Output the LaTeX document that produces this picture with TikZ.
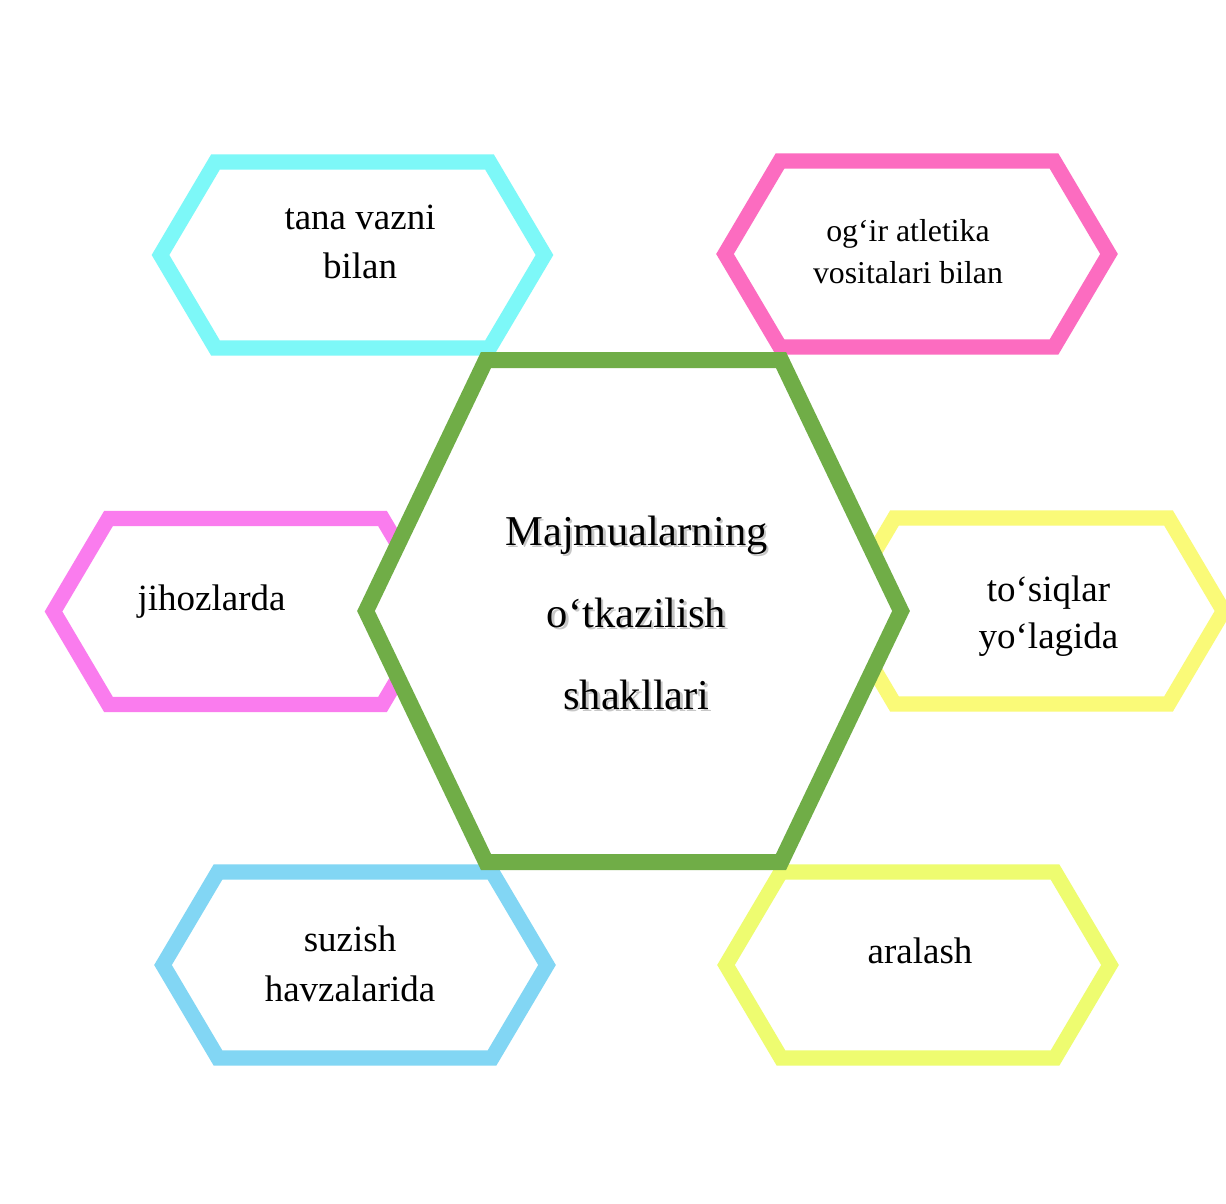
\documentclass[tikz,border=0pt]{standalone}
\usepackage{fontspec}
\setmainfont{Liberation Serif}
\usetikzlibrary{positioning}
\definecolor{hexcyan}{HTML}{7DF8F8}
\definecolor{hexrose}{HTML}{FC6CC0}
\definecolor{hexorchid}{HTML}{FA7CEE}
\definecolor{hexyellow}{HTML}{FAFA78}
\definecolor{hexsky}{HTML}{82D6F4}
\definecolor{hexlime}{HTML}{EEFC70}
\definecolor{hexgreen}{HTML}{70AD47}

% small hexagon: centre x, centre y, colour
\newcommand{\smallhex}[3]{%
  \draw[hexline, draw=#3] (#1-192,#2) -- (#1-137,#2-93) -- (#1+137,#2-93)
    -- (#1+192,#2) -- (#1+137,#2+93) -- (#1-137,#2+93) -- cycle;}
\newcommand{\shadowed}[1]{\leavevmode\rlap{\hspace{1.2pt}\raisebox{-1.2pt}{\textcolor{black!22}{#1}}}#1}

\begin{document}
\begin{tikzpicture}[x=0.5pt, y=-0.5pt,
    hexline/.style={line width=7.6pt, fill=white, line join=miter},
    bighex/.style={line width=8pt, draw=hexgreen, fill=white, line join=miter},
    hextext/.style={align=center, text=black, inner sep=0pt,
                    font=\fontsize{18.5}{24.5}\selectfont},
    maintext/.style={align=center, text=black, inner sep=0pt,
                     font=\fontsize{21.25}{41}\selectfont}
  ]
    \useasboundingbox[fill=white] (0,0) rectangle (1226,1204);
    \smallhex{352.5}{255}{hexcyan}
    \smallhex{917}{254}{hexrose}
    \smallhex{245.5}{611.5}{hexorchid}
    \smallhex{1031.5}{611}{hexyellow}
    \smallhex{355}{965}{hexsky}
    \smallhex{918}{965}{hexlime}
    \draw[bighex] (366,611) -- (486,360) -- (781,360) -- (901,611)
      -- (781,862) -- (486,862) -- cycle;
    \node[hextext] (tana) at (360, 241.5) {tana vazni\\bilan};
    \node[hextext, font=\fontsize{15.9}{21}\selectfont] (atletika) at (908, 251.5)
      {og‘ir atletika\\vositalari bilan};
    \node[hextext] (jihoz) at (211.5, 601.5) {jihozlarda};
    \node[hextext, font=\fontsize{18.5}{23.5}\selectfont] (tosiq) at (1048.5, 616)
      {to‘siqlar\\yo‘lagida};
    \node[hextext, font=\fontsize{18.5}{25}\selectfont] (suzish) at (350, 963.5)
      {suzish\\havzalarida};
    \node[hextext] (aralash) at (920, 950.5) {aralash};
    \node[maintext] (shakl) at (636.5, 614)
      {\shadowed{Majmualarning}\\\shadowed{o‘tkazilish}\\\shadowed{shakllari}};
  \end{tikzpicture}
\end{document}
